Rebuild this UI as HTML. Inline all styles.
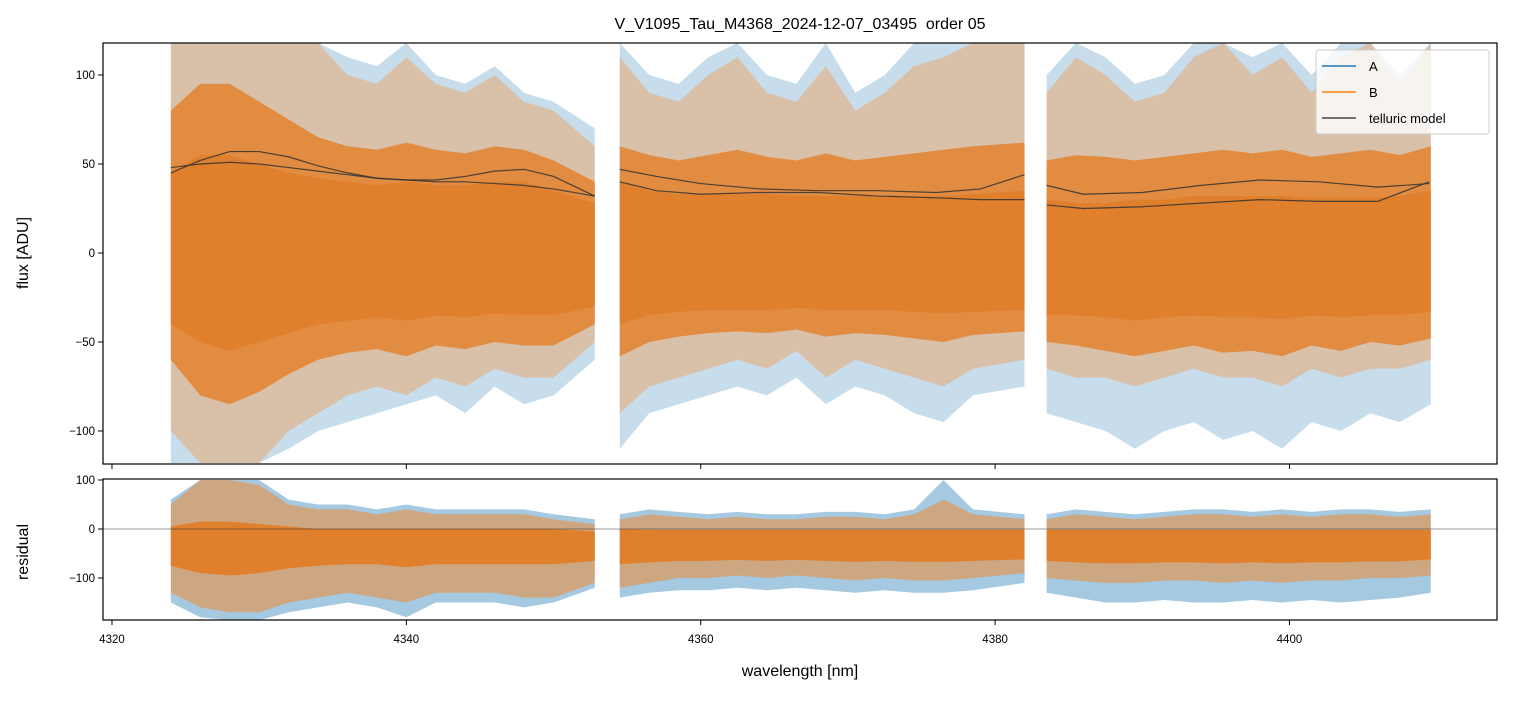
<!DOCTYPE html>
<html><head><meta charset="utf-8">
<style>
html,body{margin:0;padding:0;background:#fff;}
svg text{font-family:"Liberation Sans",sans-serif;fill:#000;white-space:pre;}
</style></head>
<body>
<svg id="chart" width="1513" height="696" viewBox="0 0 1513 696">
<text x="800" y="29" font-size="16" text-anchor="middle" xml:space="preserve">V_V1095_Tau_M4368_2024-12-07_03495  order 05</text>
<defs>
<clipPath id="cTop"><rect x="103" y="43" width="1394" height="421"/></clipPath>
<clipPath id="cRes"><rect x="103" y="479" width="1394" height="141"/></clipPath>
</defs>
<g id="topPanel" clip-path="url(#cTop)"></g>
<g id="resPanel" clip-path="url(#cRes)"></g>
<g id="axes"></g>
<g>
<rect x="1316" y="50" width="173" height="84" rx="3" fill="#fff" fill-opacity="0.8" stroke="#ccc"/>
<line x1="1322" y1="66" x2="1356" y2="66" stroke="#1f77b4" stroke-width="1.5"/>
<text x="1369" y="71" font-size="13">A</text>
<line x1="1322" y1="92" x2="1356" y2="92" stroke="#ff7f0e" stroke-width="1.5"/>
<text x="1369" y="97" font-size="13">B</text>
<line x1="1322" y1="118" x2="1356" y2="118" stroke="#444" stroke-width="1.5"/>
<text x="1369" y="123" font-size="13">telluric model</text>
</g>
</svg>
<script>
// ---- data ----
const segStarts = [4324.0, 4354.5, 4383.5];
const segEnds = [4352.8, 4382.0, 4409.6];
const blueHi = [[118,118,118,118,118,118,110,105,118,100,95,105,90,85,70],[118,100,95,110,118,100,95,118,90,100,118,118,118,118],[100,118,110,95,100,118,118,110,118,100,118,118,100,118]];
const blueLo = [[-118,-118,-118,-118,-110,-100,-95,-90,-85,-80,-90,-75,-85,-80,-60],[-110,-90,-85,-80,-75,-80,-70,-85,-75,-80,-90,-95,-80,-75],[-90,-95,-100,-110,-100,-95,-105,-100,-110,-95,-100,-90,-95,-85]];
const orangeHi = [[118,118,118,118,118,118,100,95,110,95,90,100,85,80,60],[110,90,85,100,110,90,85,105,80,90,105,110,118,118],[90,110,100,85,90,110,118,100,110,90,110,118,95,118]];
const orangeLo = [[-100,-118,-118,-118,-100,-90,-80,-75,-80,-70,-75,-65,-70,-70,-50],[-90,-75,-70,-65,-60,-65,-55,-70,-60,-65,-70,-75,-65,-60],[-65,-70,-70,-75,-70,-65,-70,-70,-75,-65,-70,-65,-65,-60]];
const midHi = [[80,95,95,85,75,65,60,58,62,58,56,60,58,52,40],[60,55,52,55,58,54,52,56,52,54,56,58,60,62],[52,55,54,52,54,56,58,56,58,54,56,58,55,60]];
const midLo = [[-60,-80,-85,-78,-68,-60,-56,-54,-58,-52,-54,-50,-52,-52,-40],[-58,-50,-47,-45,-44,-45,-43,-47,-45,-46,-48,-50,-46,-44],[-50,-52,-55,-58,-55,-52,-56,-55,-58,-52,-55,-50,-52,-48]];
const coreHi = [[45,55,55,50,45,42,40,38,40,38,38,40,40,35,28],[40,35,33,33,33,33,32,32,32,32,32,32,33,35],[30,28,28,30,30,32,32,32,32,31,31,31,32,35]];
const coreLo = [[-40,-50,-55,-50,-45,-40,-38,-36,-38,-35,-36,-34,-35,-35,-30],[-40,-35,-33,-32,-32,-32,-31,-32,-32,-32,-33,-34,-33,-32],[-35,-35,-36,-38,-36,-35,-36,-36,-37,-35,-36,-35,-35,-33]];
const rBlueHi = [[60,100,100,100,60,50,50,40,50,40,40,40,40,30,20],[30,40,35,30,35,30,30,35,35,30,40,100,40,30],[30,40,35,30,35,40,40,35,40,35,40,40,35,40]];
const rBlueLo = [[-150,-180,-186,-186,-170,-160,-150,-160,-180,-150,-150,-150,-160,-150,-120],[-140,-130,-125,-125,-120,-125,-120,-125,-130,-125,-130,-130,-125,-110],[-130,-140,-150,-150,-145,-150,-150,-145,-150,-145,-150,-145,-140,-130]];
const rOrHi = [[50,100,100,90,50,40,40,30,40,30,30,30,30,20,10],[20,30,25,20,25,20,20,25,25,20,30,60,30,20],[20,30,25,20,25,30,30,25,30,25,30,30,25,30]];
const rOrLo = [[-130,-160,-170,-170,-150,-140,-130,-140,-150,-130,-130,-130,-140,-140,-110],[-120,-110,-100,-100,-95,-100,-95,-100,-105,-100,-105,-105,-100,-90],[-100,-105,-110,-110,-105,-105,-110,-105,-110,-105,-105,-100,-100,-95]];
const rCoreHi = [[5,15,15,10,5,0,0,0,0,0,0,0,0,0,-5],[0,-2,-2,-2,-2,-2,-2,-2,-2,-2,-2,-2,-2,-2],[-2,-2,-2,-2,-2,-2,-2,-2,-2,-2,-2,-2,-2,-2]];
const rCoreLo = [[-75,-90,-95,-90,-80,-75,-72,-72,-78,-72,-72,-72,-72,-72,-65],[-72,-68,-65,-65,-63,-65,-63,-65,-67,-65,-67,-67,-65,-62],[-65,-68,-70,-70,-68,-68,-70,-68,-70,-68,-68,-66,-66,-62]];
const tellX = [[4324,4326,4328,4330,4332,4334,4336,4338,4340,4342,4344,4346,4348,4350,4352.8],[4354.5,4357,4360,4364,4368,4372,4376,4379,4382],[4383.5,4386,4390,4394,4398,4402,4406,4409.5]];
const tell1 = [[45,52,57,57,54,49,45,42,41,41,43,46,47,43,32],[47,43,39,36,35,35,34,36,44],[38,33,34,38,41,40,37,39]];
const tell2 = [[48,50,51,50,48,46,44,42,41,40,40,39,38,36,32],[40,35,33,34,34,32,31,30,30],[27,25,26,28,30,29,29,40]];
const xTicks = [4320,4340,4360,4380,4400];
const yTicksTop = [100,50,0,-50,-100];
const yTicksRes = [100,0,-100];
// ---- scales ----
const X0=4319.39, X1=4414.1, PL=103, PR=1497;
const sx = v => PL + (v-X0)/(X1-X0)*(PR-PL);
const syT = v => 253 - v*1.78;
const syR = v => 529 - v*0.49;
const NS='http://www.w3.org/2000/svg';
function mk(tag, attrs, parent){const e=document.createElementNS(NS,tag);for(const k in attrs)e.setAttribute(k,attrs[k]);parent.appendChild(e);return e;}
function xsFor(s,n){const a=[];for(let i=0;i<n;i++){a.push(Math.min(segStarts[s]+2*i, segEnds[s]));}a[n-1]=segEnds[s];return a;}
function band(parent, s, hi, lo, sy, color, op, name){
  const n=hi.length, xs=xsFor(s,n); let pts=[];
  for(let i=0;i<n;i++) pts.push(sx(xs[i])+','+sy(hi[i]));
  for(let i=n-1;i>=0;i--) pts.push(sx(xs[i])+','+sy(lo[i]));
  const p=mk('polygon',{points:pts.join(' '),fill:color,'fill-opacity':op},parent);
  
  
}
const topG=document.getElementById('topPanel'), resG=document.getElementById('resPanel');
for(let s=0;s<3;s++){
  band(topG,s,blueHi[s],blueLo[s],syT,'#1f77b4',0.25,'series-a-band');
  band(topG,s,orangeHi[s],orangeLo[s],syT,'#ff7f0e',0.3,'series-b-band');
  band(topG,s,midHi[s],midLo[s],syT,'#e3822f',0.85,'series-b-mid');
  band(topG,s,coreHi[s],coreLo[s],syT,'#e07f2c',1,'series-b-core');
  band(resG,s,rBlueHi[s],rBlueLo[s],syR,'#1f77b4',0.4,'residual-a-band');
  band(resG,s,rOrHi[s],rOrLo[s],syR,'#ff7f0e',0.45,'residual-b-band');
  band(resG,s,rCoreHi[s],rCoreLo[s],syR,'#e07f2c',1,'residual-b-core');
  [tell1,tell2].forEach(t=>{
    const l=mk('polyline',{points:tellX[s].map((x,i)=>sx(x)+','+syT(t[s][i])).join(' '),fill:'none',stroke:'#333','stroke-width':1.2,'stroke-opacity':0.85,'stroke-linejoin':'round'},topG);
    
    
  });
}
const zl=mk('line',{x1:PL,x2:PR,y1:syR(0),y2:syR(0),stroke:'#333','stroke-width':0.6},resG);


const ax=document.getElementById('axes');
mk('rect',{x:PL,y:43,width:PR-PL,height:421,fill:'none',stroke:'#000','stroke-width':1.2},ax);
mk('rect',{x:PL,y:479,width:PR-PL,height:141,fill:'none',stroke:'#000','stroke-width':1.2},ax);
xTicks.forEach(v=>{
  mk('line',{x1:sx(v),x2:sx(v),y1:464,y2:469,stroke:'#000'},ax);
  mk('line',{x1:sx(v),x2:sx(v),y1:620,y2:625,stroke:'#000'},ax);
  const t=mk('text',{x:sx(v),y:643,'font-size':11.5,'text-anchor':'middle'},ax);t.textContent=v;
  
  
});
yTicksTop.forEach(v=>{
  mk('line',{x1:PL-5,x2:PL,y1:syT(v),y2:syT(v),stroke:'#000'},ax);
  const t=mk('text',{x:PL-8,y:syT(v)+4,'font-size':11.5,'text-anchor':'end'},ax);t.textContent=v<0?'\u2212'+(-v):v;
  
  
});
yTicksRes.forEach(v=>{
  mk('line',{x1:PL-5,x2:PL,y1:syR(v),y2:syR(v),stroke:'#000'},ax);
  const t=mk('text',{x:PL-8,y:syR(v)+4,'font-size':11.5,'text-anchor':'end'},ax);t.textContent=v<0?'\u2212'+(-v):v;
  
  
});
const xl=mk('text',{x:800,y:676,'font-size':16,'text-anchor':'middle'},ax);xl.textContent='wavelength [nm]';


const yl=mk('text',{x:28,y:253,'font-size':16,'text-anchor':'middle',transform:'rotate(-90 28 253)'},ax);yl.textContent='flux [ADU]';


const rl=mk('text',{x:28,y:552,'font-size':16,'text-anchor':'middle',transform:'rotate(-90 28 552)'},ax);rl.textContent='residual';


</script>
</body></html>
